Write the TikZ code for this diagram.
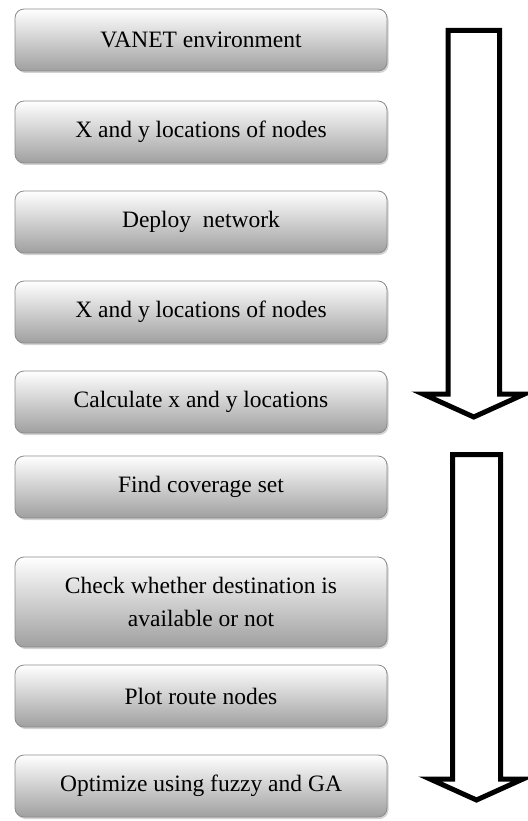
\documentclass[tikz,border=0pt]{standalone}
\usepackage{fontspec}
\setmainfont{Liberation Serif}
\usetikzlibrary{shadows}

\tikzset{
  stepbox/.style={draw=gray!90, line width=0.8pt, rounded corners=9pt,
    top color=white, bottom color=gray!75, minimum width=372pt,
    minimum height=62pt, align=center, font=\fontsize{23.5}{33}\selectfont,
    drop shadow={opacity=0.35, shadow xshift=1.5pt, shadow yshift=-2pt}},
  blockarrow/.style={draw=black, line width=5pt, fill=white, line join=miter}
}

\begin{document}
\begin{tikzpicture}[x=1pt,y=1pt]
\useasboundingbox (0,0) rectangle (527,-821);

\node (b1) at (201,-40) [stepbox] {VANET environment};
\node (b2) at (201,-132) [stepbox] {X and y locations of nodes};
\node (b3) at (201,-222) [stepbox] {Deploy\ \ network};
\node (b4) at (201,-312) [stepbox] {X and y locations of nodes};
\node (b5) at (201,-402) [stepbox] {Calculate x and y locations};
\node (b6) at (201,-487) [stepbox] {Find coverage set};
\node (b7) at (201,-602) [stepbox, minimum height=90pt] {Check whether destination is\\available or not};
\node (b8) at (201,-696) [stepbox] {Plot route nodes};
\node (b9) at (201,-786) [stepbox] {Optimize using fuzzy and GA};

% block arrows
\draw [blockarrow] (448,-30.5) -- (499.5,-30.5) -- (499.5,-394) -- (524.5,-394)
  -- (473.75,-417) -- (423,-394) -- (448,-394) -- cycle;
\draw [blockarrow] (452.5,-454.5) -- (500.5,-454.5) -- (500.5,-779) -- (523,-779)
  -- (476.5,-800) -- (430,-779) -- (452.5,-779) -- cycle;

\end{tikzpicture}
\end{document}
